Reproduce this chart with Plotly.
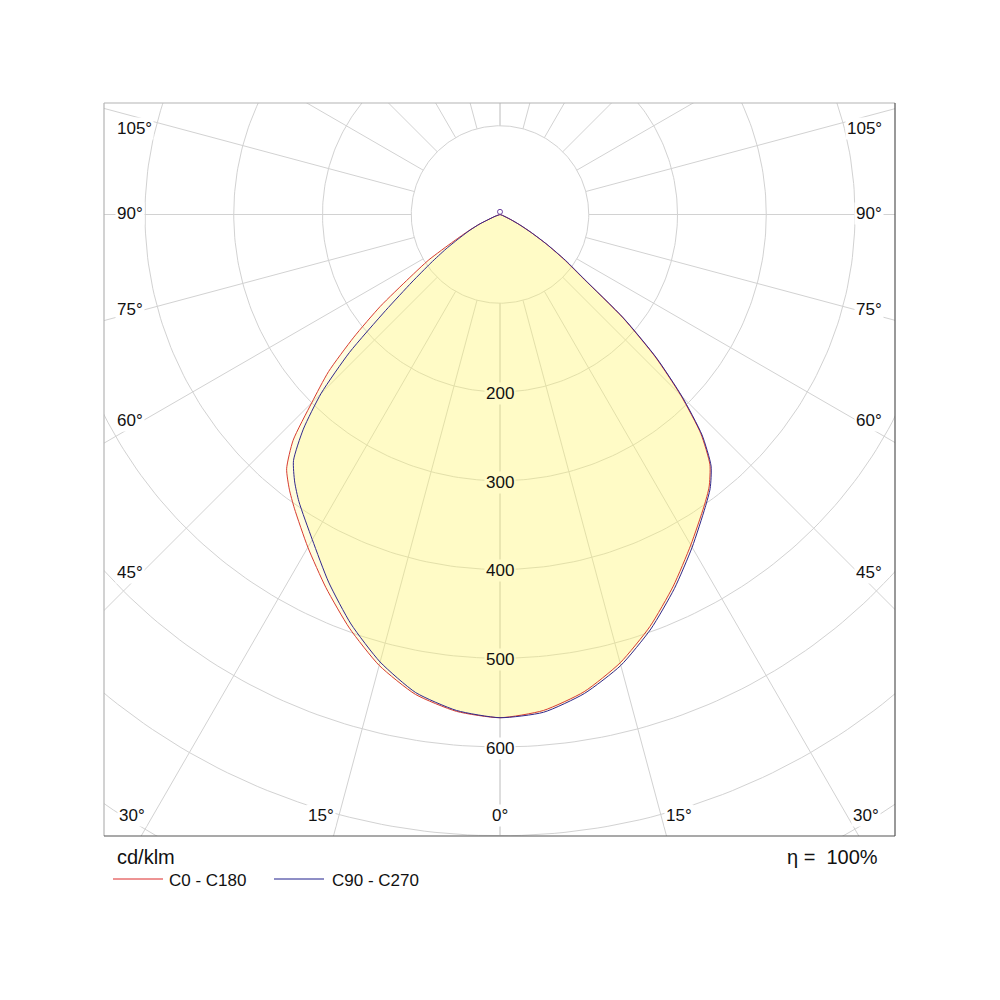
import numpy as np
import plotly.graph_objects as go

# luminous intensity distribution, cd/klm, at gamma angles (0 = nadir)
gamma = [0, 5, 10, 15, 20, 25, 30, 35, 37.5, 40, 42.5, 45, 47.5, 50, 52.5, 55, 57.5, 60, 62.5, 65, 70, 75, 80, 85, 90]
c0 = [567, 561, 546, 523, 494, 462, 430, 401, 387, 368, 335, 288, 237, 180, 118, 88, 62, 40, 24, 12, 3, 0, 0, 0, 0]
c90 = [567, 563, 548, 526, 497, 465, 433, 403, 389, 370, 337, 290, 239, 182, 120, 90, 63, 41, 25, 13, 3, 0, 0, 0, 0]
c180 = [567, 562, 549, 526, 496, 464, 433, 404, 390, 374, 345, 300, 262, 215, 170, 125, 95, 60, 40, 25, 5, 0, 0, 0, 0]
c270 = [567, 561, 547, 522, 491, 457, 423, 395, 380, 362, 328, 285, 230, 168, 125, 95, 72, 52, 38, 25, 6, 0, 0, 0, 0]
# upper hemisphere value (gamma 180)
gamma_top = [180]
r_top = [3]

rings = [100, 200, 300, 400, 500, 600, 700, 800]
ring_labels = [200, 300, 400, 500, 600]
spokes = [0, 15, 30, 45, 60, 75, 90, 105, 120, 135, 150, 165, 180]
side_labels = ["105°", "90°", "75°", "60°", "45°"]
bottom_labels = ["30°", "15°", "0°", "15°", "30°"]
unit = "cd/klm"
eta = "η =  100%"
series_names = ["C0 - C180", "C90 - C270"]

# page geometry (pixels) of the frame and the polar origin
L, R, T, B = 104, 895, 103, 836
CX, CY, S = 500, 214.5, 0.8875


def px(x):
    return (x - L) / (R - L)


def py(y):
    return (B - y) / (B - T)


def half(r, g, side):
    g = np.radians(np.array(g, dtype=float))
    r = np.array(r, dtype=float)
    return side * r * np.sin(g), -r * np.cos(g)


def outline(right, left):
    xr, yr = half(right, gamma, 1)
    xl, yl = half(left, gamma, -1)
    return np.concatenate([xl[::-1], xr[1:]]), np.concatenate([yl[::-1], yr[1:]])


grid = "#d2d2d2"
fig = go.Figure()

# rings
t = np.linspace(0, 2 * np.pi, 361)
for r in rings:
    fig.add_trace(go.Scatter(x=r * np.cos(t), y=r * np.sin(t), mode="lines",
                             line=dict(color=grid, width=1), hoverinfo="skip", showlegend=False))
# spokes, starting at the first ring
for a in spokes:
    for side in (1, -1):
        xs, ys = half([100, 1200], [a, a], side)
        fig.add_trace(go.Scatter(x=xs, y=ys, mode="lines",
                                 line=dict(color=grid, width=1), hoverinfo="skip", showlegend=False))

# filled curves
fill = "rgba(255,245,110,0.22)"
smooth = dict(shape="spline", smoothing=0.6)
xa, ya = outline(c0, c180)
xb, yb = outline(c90, c270)
for xs, ys in [(xa, ya), (xb, yb)]:
    fig.add_trace(go.Scatter(x=xs, y=ys, mode="lines", fill="toself", fillcolor=fill,
                             line=dict(width=0, **smooth), hoverinfo="skip", showlegend=False))
fig.add_trace(go.Scatter(x=xa, y=ya, mode="lines", name=series_names[0],
                         line=dict(color="rgb(215,60,50)", width=1, **smooth), showlegend=False))
fig.add_trace(go.Scatter(x=xb, y=yb, mode="lines", name=series_names[1],
                         line=dict(color="rgb(50,40,140)", width=1, **smooth), showlegend=False))
xt, yt = half(r_top, gamma_top, 1)
fig.add_trace(go.Scatter(x=xt, y=yt, mode="markers",
                         marker=dict(symbol="circle-open", size=5, color="rgb(110,70,160)", line=dict(width=1)),
                         showlegend=False))

font = dict(family="Arial, Liberation Sans, sans-serif", color="#111111")
ann = []
inside = "rgb(255,251,199)"


def label(x, y, text, size=17, xanchor="center", bg=None, ref="paper"):
    d = dict(x=x, y=y, xref=ref, yref=ref, text=text, showarrow=False,
             xanchor=xanchor, yanchor="middle", font=dict(size=size, **font))
    if bg:
        d.update(bgcolor=bg, borderpad=1)
    ann.append(d)


# radial scale values sit on the 0° spoke
for v in ring_labels:
    label(0, -v - 1.5, str(v), bg=inside if v < 560 else "white", ref="x")
    ann[-1]["yref"] = "y"
side_y = [128, 213, 309, 420, 572]
for lab, yy in zip(side_labels, side_y):
    label(px(115), py(yy), lab, xanchor="left", bg="white")
    label(px(884), py(yy), lab, xanchor="right", bg="white")
bottom_x = [132, 321, 500, 679, 866]
for lab, xx in zip(bottom_labels, bottom_x):
    label(px(xx), py(815), lab, bg="white")
label(px(115), py(857), unit, size=20, xanchor="left")
label(px(880), py(857), eta, size=20, xanchor="right")
label(px(167), py(880), series_names[0], xanchor="left")
label(px(330), py(880), series_names[1], xanchor="left")

shapes = [
    dict(type="line", xref="paper", yref="paper", x0=px(113), x1=px(163), y0=py(879), y1=py(879),
         line=dict(color="rgb(220,40,40)", width=1)),
    dict(type="line", xref="paper", yref="paper", x0=px(274), x1=px(324), y0=py(879), y1=py(879),
         line=dict(color="rgb(30,30,140)", width=1)),
    # frame
    dict(type="line", xref="paper", yref="paper", x0=0, x1=1, y0=1, y1=1, line=dict(color="#b4b4b4", width=1.2)),
    dict(type="line", xref="paper", yref="paper", x0=0, x1=0, y0=0, y1=1, line=dict(color="#b4b4b4", width=1.2)),
    dict(type="line", xref="paper", yref="paper", x0=0, x1=1, y0=0, y1=0, line=dict(color="#555555", width=1.2)),
    dict(type="line", xref="paper", yref="paper", x0=1, x1=1, y0=0, y1=1, line=dict(color="#555555", width=1.2)),
]

fig.update_layout(
    width=1000, height=1000,
    margin=dict(l=L, r=1000 - R, t=T, b=1000 - B),
    paper_bgcolor="white", plot_bgcolor="white",
    xaxis=dict(range=[(L - CX) / S, (R - CX) / S], visible=False),
    yaxis=dict(range=[(CY - B) / S, (CY - T) / S], visible=False),
    annotations=ann, shapes=shapes, showlegend=False,
)

fig.write_html("out.html", config={"displayModeBar": False},
               post_script="document.body.style.margin='0';")
